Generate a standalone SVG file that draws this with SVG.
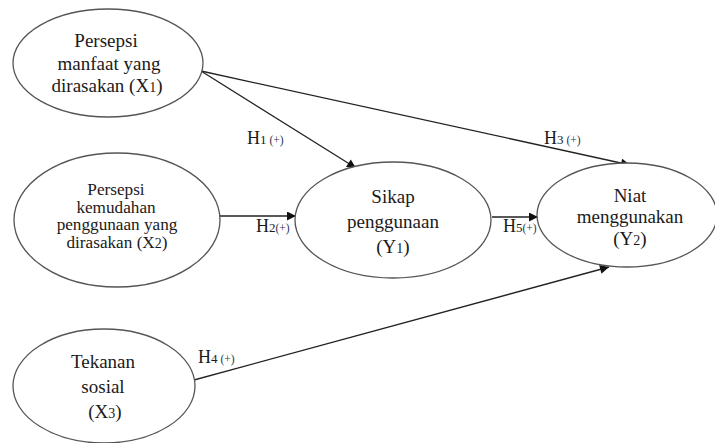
<svg xmlns="http://www.w3.org/2000/svg" width="715" height="443" viewBox="0 0 715 443">
<style>
.node ellipse{fill:#fff;stroke:#555;stroke-width:1.3}
text{font-family:"Liberation Serif","Times New Roman",serif;fill:#1a1a1a;text-anchor:middle}
.t{font-size:19px}
.s{font-size:17.2px}
.sub{font-size:14px}
.lab{font-size:18px;text-anchor:start}
.ls{font-size:13px}
.lp{font-size:11.5px;fill:#2a3350}
.conn line{stroke:#222;stroke-width:1.3;fill:none}
</style>
<defs>
<marker id="arr" viewBox="0 0 10 10" refX="10" refY="5" markerWidth="10" markerHeight="9" markerUnits="userSpaceOnUse" orient="auto">
<path d="M0,0 L10,5 L0,10 z" fill="#111"/>
</marker>
</defs>
<g class="conn">
<line x1="201" y1="71" x2="356" y2="168" marker-end="url(#arr)"/>
<line x1="201" y1="71" x2="630" y2="165" marker-end="url(#arr)"/>
<line x1="220" y1="216" x2="296" y2="216" marker-end="url(#arr)"/>
<line x1="492" y1="217" x2="538" y2="217" marker-end="url(#arr)"/>
<line x1="194" y1="380" x2="609" y2="267" marker-end="url(#arr)"/>
</g>
<g id="x1" class="node">
<ellipse cx="108" cy="63" rx="95" ry="54"/>
<text class="t" x="106" y="47">Persepsi</text>
<text class="t" x="109" y="70">manfaat yang</text>
<text class="t" x="107" y="92">dirasakan (X<tspan class="sub">1</tspan>)</text>
</g>
<g id="x2" class="node">
<ellipse cx="117" cy="220" rx="103" ry="67"/>
<text class="s" x="116" y="195">Persepsi</text>
<text class="s" x="116" y="212.5">kemudahan</text>
<text class="s" x="117" y="230">penggunaan yang</text>
<text class="s" x="117" y="247.5">dirasakan (X<tspan class="sub">2</tspan>)</text>
</g>
<g id="x3" class="node">
<ellipse cx="104" cy="386" rx="91" ry="57"/>
<text class="t" x="103" y="368">Tekanan</text>
<text class="t" x="103" y="393">sosial</text>
<text class="t" x="105" y="418">(X<tspan class="sub">3</tspan>)</text>
</g>
<g id="y1" class="node">
<ellipse cx="393" cy="220" rx="98" ry="58"/>
<text class="t" x="393" y="203">Sikap</text>
<text class="t" x="393" y="228">penggunaan</text>
<text class="t" x="393" y="253">(Y<tspan class="sub">1</tspan>)</text>
</g>
<g id="y2" class="node">
<ellipse cx="627" cy="215" rx="90" ry="52"/>
<text class="t" x="630" y="202">Niat</text>
<text class="t" x="630" y="223">menggunakan</text>
<text class="t" x="630" y="245">(Y<tspan class="sub">2</tspan>)</text>
</g>
<g id="labels">
<text class="lab" x="247" y="144">H<tspan class="ls">1</tspan><tspan class="lp"> (+)</tspan></text>
<text class="lab" x="256" y="232">H<tspan class="ls">2</tspan><tspan class="lp">(+)</tspan></text>
<text class="lab" x="544" y="144">H<tspan class="ls">3</tspan><tspan class="lp"> (+)</tspan></text>
<text class="lab" x="198" y="363">H<tspan class="ls">4</tspan><tspan class="lp"> (+)</tspan></text>
<text class="lab" x="503" y="232">H<tspan class="ls">5</tspan><tspan class="lp">(+)</tspan></text>
</g>
</svg>
